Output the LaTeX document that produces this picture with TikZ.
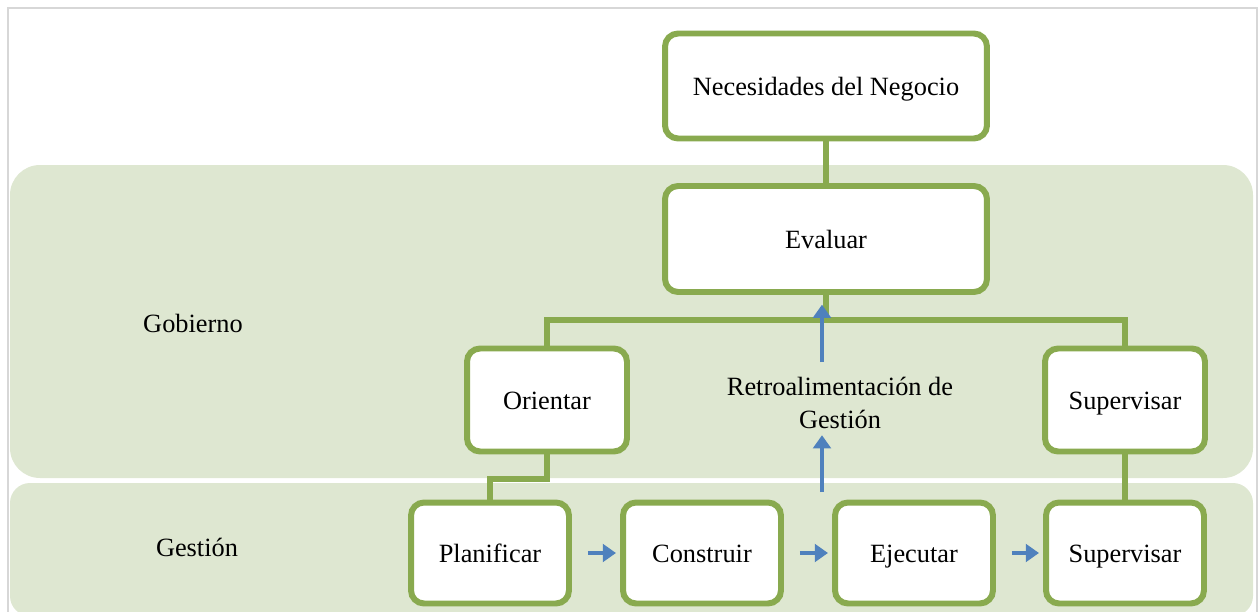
\documentclass[tikz,border=0pt]{standalone}
\usepackage{fontspec}
\setmainfont{Liberation Serif}
\usetikzlibrary{arrows.meta}
\definecolor{boxgreen}{RGB}{137,170,79}
\definecolor{bandgreen}{RGB}{222,231,209}
\definecolor{flowblue}{RGB}{79,129,189}
\definecolor{framegray}{RGB}{215,215,215}
\begin{document}
\begin{tikzpicture}[x=0.02cm, y=-0.02cm,
    box/.style={draw=boxgreen, line width=3.4pt, fill=white, rounded corners=0.26cm,
        minimum width=3.16cm, minimum height=2.02cm, text height=12.3pt, text depth=1.7pt,
        font=\fontsize{15}{19}\selectfont},
    link/.style={draw=boxgreen, line width=3.4pt},
    flow/.style={draw=flowblue, line width=2.8pt, -{Triangle[width=10pt,length=7.5pt]}},
    lbl/.style={font=\fontsize{15}{19}\selectfont}]
    \useasboundingbox (0,0) rectangle (1259,612);
    % frame and bands
    \draw[framegray, line width=1.1pt] (8,620) -- (8,8) -- (1257,8) -- (1257,620);
    \fill[bandgreen, rounded corners=0.6cm] (10,165) rectangle (1253,478);
    \fill[bandgreen, rounded corners=0.4cm] (10,483) rectangle (1253,616);
    \node[lbl] (gob) at (193,323) {Gobierno};
    \node[lbl] (gest) at (197,547) {Gestión};
    % boxes
    \node[box, minimum width=6.44cm, minimum height=2.1cm] (neces) at (826,86) {Necesidades del Negocio};
    \node[box, minimum width=6.44cm, minimum height=2.12cm] (eval) at (826,239) {Evaluar};
    \node[box, minimum width=3.2cm, minimum height=2.06cm] (orient) at (547,400) {Orientar};
    \node[box, minimum width=3.2cm, minimum height=2.06cm] (superv) at (1125,400) {Supervisar};
    \node[box] (plan) at (490,553) {Planificar};
    \node[box] (constr) at (702,553) {Construir};
    \node[box] (ejec) at (914,553) {Ejecutar};
    \node[box] (control) at (1125,553) {Supervisar};
    \node[lbl, align=center] (retro) at (840,403) {Retroalimentación de\\Gestión};
    % links
    \draw[link] (neces) -- (eval);
    \draw[link] (eval.south) -- ++(0,25) coordinate (fork) -| (orient.north);
    \draw[link] (fork) -| (superv.north);
    \draw[link] (orient.south) -- ++(0,25) -| (plan.north);
    \draw[link] (superv) -- (control);
    % feedback
    \coordinate (fb) at (822,492);
    \draw[flow] (fb) -- (fb |- retro.south);
    \draw[flow, shorten <=5pt, shorten >=5.5pt] (fb |- retro.north) -- (fb |- eval.south);
    \draw[flow, shorten <=9pt, shorten >=2.3pt] (plan) -- (constr);
    \draw[flow, shorten <=9pt, shorten >=2.3pt] (constr) -- (ejec);
    \draw[flow, shorten <=9pt, shorten >=2.3pt] (ejec) -- (control);
\end{tikzpicture}
\end{document}
